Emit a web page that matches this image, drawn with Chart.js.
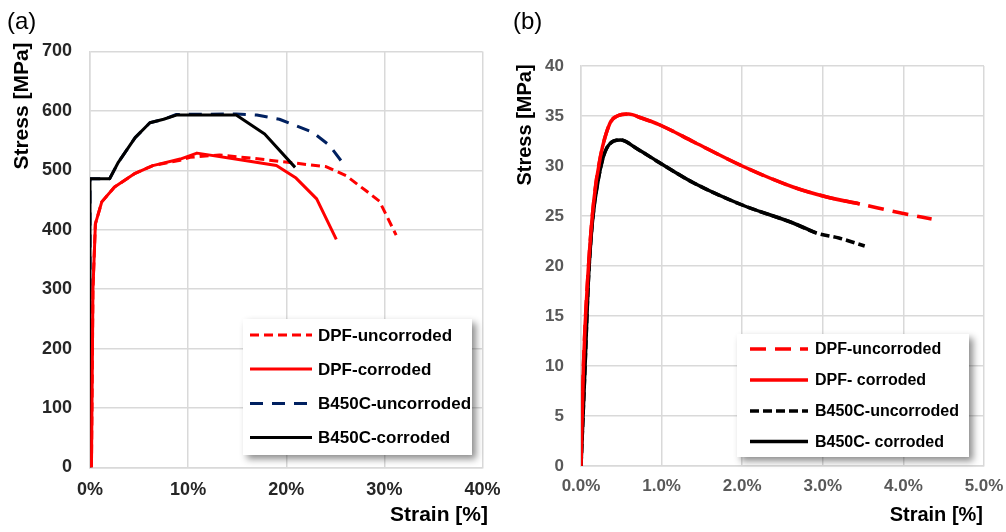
<!DOCTYPE html>
<html>
<head>
<meta charset="utf-8">
<script src="https://cdn.jsdelivr.net/npm/chart.js@4.4.1/dist/chart.umd.min.js"></script>
<style>
    html, body { margin: 0; padding: 0; background: #fff; }
    #wrap { position: relative; width: 1006px; height: 532px; }
    canvas { position: absolute; top: 0; }
    #chartA { left: 0; }
    #chartB { left: 503px; }
</style>
</head>
<body>
<div id="wrap">
    <canvas id="chartA" width="503" height="532"></canvas>
    <canvas id="chartB" width="503" height="532"></canvas>
</div>
<script>
// ===================================
// Stress-strain curves, panel (a) steel bars, panel (b) mortar/concrete
// ===================================

const FONT = '"Liberation Sans", Arial, sans-serif';

// ---- Panel (a) data: strain [%], stress [MPa]
const dpfUncorrodedStrainA = [0.15, 0.3, 0.55, 1.2, 2.5, 4.6, 6.4, 9.2, 10.2, 13.2, 17.3, 21.0, 24.1, 26.1, 28.1, 29.5, 31.2];
const dpfUncorrodedStressA = [0, 300, 410, 447, 472, 495, 508, 517, 522, 526, 519, 512, 506, 491, 466, 448, 391];
const dpfCorrodedStrainA = [0.15, 0.3, 0.55, 1.2, 2.5, 4.6, 6.4, 9.2, 10.9, 15.3, 19.0, 21.0, 23.1, 25.1];
const dpfCorrodedStressA = [0, 300, 410, 447, 472, 495, 508, 519, 529, 518, 508, 487, 452, 384];
const b450UncorrodedStrainA = [0, 0, 2.0, 2.9, 4.6, 6.1, 7.5, 8.8, 14.9, 17.0, 19.3, 22.7, 24.4, 26.1];
const b450UncorrodedStressA = [0, 486, 486, 514, 555, 580, 586, 594, 595, 593, 586, 564, 542, 505];
const b450CorrodedStrainA = [0, 0, 2.0, 2.9, 4.6, 6.1, 7.5, 8.8, 14.9, 17.8, 20.9];
const b450CorrodedStressA = [0, 486, 486, 514, 555, 580, 586, 593, 593, 561, 505];

// ---- Panel (b) data
const dpfCorrodedStrainB = [0, 0.03, 0.09, 0.16, 0.24, 0.36, 0.45, 0.59, 0.75, 0.98, 1.4, 2.0, 2.63, 3.05, 3.46];
const dpfCorrodedStressB = [0, 9.9, 19.6, 26.6, 30.9, 34.3, 35.0, 35.2, 34.8, 34.1, 32.4, 30.0, 27.9, 26.9, 26.2];
const dpfUncorrodedStrainB = dpfCorrodedStrainB.concat([3.97, 4.35]);
const dpfUncorrodedStressB = dpfCorrodedStressB.concat([25.3, 24.7]);
const b450CorrodedStrainB = [0, 0.05, 0.09, 0.14, 0.22, 0.32, 0.49, 0.7, 0.98, 1.4, 2.0, 2.63, 2.92];
const b450CorrodedStressB = [0, 9.9, 18.3, 24.3, 28.9, 31.8, 32.6, 31.7, 30.3, 28.3, 26.1, 24.3, 23.3];
const b450UncorrodedStrainB = b450CorrodedStrainB.concat([3.2, 3.52]);
const b450UncorrodedStressB = b450CorrodedStressB.concat([22.8, 22.0]);

const legendA = ['DPF-uncorroded', 'DPF-corroded', 'B450C-uncorroded', 'B450C-corroded'];
const legendB = ['DPF-uncorroded', 'DPF- corroded', 'B450C-uncorroded', 'B450C- corroded'];

function toPoints(xs, ys) {
    return xs.map((x, i) => ({ x: x, y: ys[i] }));
}

function makeDataset(label, xs, ys, color, dash, width, order) {
    return {
        label: label,
        data: toPoints(xs, ys),
        borderColor: color,
        borderWidth: width,
        borderDash: dash,
        borderCapStyle: 'butt',
        borderJoinStyle: 'round',
        pointRadius: 0,
        fill: false,
        order: order
    };
}

// Draws panel letter, axis titles and the boxed legend
const decorPlugin = {
    id: 'decor',
    afterDatasetsDraw(chart, args, opts) {
        const ctx = chart.ctx;
        ctx.save();

        // panel letter
        ctx.fillStyle = '#000';
        ctx.font = '24px ' + FONT;
        ctx.textAlign = 'left';
        ctx.textBaseline = 'middle';
        ctx.fillText(opts.panel, opts.panelX, 22);

        // x title
        ctx.font = 'bold ' + opts.titleSize + 'px ' + FONT;
        ctx.textAlign = 'right';
        ctx.fillText('Strain [%]', opts.xTitleX, opts.xTitleY);

        // y title
        ctx.save();
        ctx.translate(opts.yTitleX, opts.yTitleY);
        ctx.rotate(-Math.PI / 2);
        ctx.textAlign = 'center';
        ctx.fillText('Stress [MPa]', 0, 0);
        ctx.restore();

        // legend box
        const b = opts.box;
        ctx.save();
        ctx.shadowColor = 'rgba(0,0,0,0.45)';
        ctx.shadowBlur = 7;
        ctx.shadowOffsetX = 4;
        ctx.shadowOffsetY = 4;
        ctx.fillStyle = '#fff';
        ctx.fillRect(b.x, b.y, b.w, b.h);
        ctx.restore();

        const ds = chart.data.datasets;
        ctx.font = 'bold ' + opts.legendSize + 'px ' + FONT;
        ctx.textAlign = 'left';
        ctx.textBaseline = 'middle';
        opts.rows.forEach((rowY, i) => {
            const d = ds[i];
            ctx.beginPath();
            ctx.strokeStyle = d.borderColor;
            ctx.lineWidth = d.borderWidth;
            ctx.setLineDash(d.borderDash || []);
            ctx.lineCap = 'butt';
            ctx.moveTo(opts.sampleX0, rowY);
            ctx.lineTo(opts.sampleX1, rowY);
            ctx.stroke();
            ctx.setLineDash([]);
            ctx.fillStyle = '#000';
            ctx.fillText(opts.labels[i], opts.textX, rowY + 1);
        });

        ctx.restore();
    }
};

function buildOptions(cfg) {
    return {
        responsive: false,
        animation: false,
        events: [],
        layout: { padding: { top: cfg.top, right: cfg.right, left: 0, bottom: 0 } },
        plugins: {
            legend: { display: false },
            tooltip: { enabled: false },
            decor: cfg.decor
        },
        scales: {
            x: {
                type: 'linear',
                min: cfg.xMin,
                max: cfg.xMax,
                afterFit: function(scale) {
                    scale.height = cfg.xHeight;
                    scale.paddingLeft = 0;
                    scale.paddingRight = 0;
                },
                ticks: {
                    stepSize: cfg.xStep,
                    padding: cfg.xPad,
                    color: cfg.tickColor,
                    font: { family: FONT, size: cfg.tickSize, weight: 'bold' },
                    maxRotation: 0,
                    callback: cfg.xFormat
                },
                grid: { color: '#d9d9d9', lineWidth: 1.5, drawTicks: false },
                border: { color: '#d9d9d9', width: 1.5 }
            },
            y: {
                min: cfg.yMin,
                max: cfg.yMax,
                afterFit: function(scale) {
                    scale.width = cfg.yWidth;
                    scale.paddingTop = 0;
                    scale.paddingBottom = 0;
                },
                ticks: {
                    stepSize: cfg.yStep,
                    padding: cfg.yPad,
                    color: cfg.tickColor,
                    font: { family: FONT, size: cfg.tickSize, weight: 'bold' }
                },
                grid: { color: '#d9d9d9', lineWidth: 1.5, drawTicks: false },
                border: { color: '#d9d9d9', width: 1.5 }
            }
        }
    };
}

// ---- Panel (a)
new Chart(document.getElementById('chartA'), {
    type: 'line',
    data: {
        datasets: [
            makeDataset('DPF-uncorroded', dpfUncorrodedStrainA, dpfUncorrodedStressA, '#ff0000', [9, 5], 3, 1),
            makeDataset('DPF-corroded', dpfCorrodedStrainA, dpfCorrodedStressA, '#ff0000', [], 3, 0),
            makeDataset('B450C-uncorroded', b450UncorrodedStrainA, b450UncorrodedStressA, '#002060', [13, 9], 3, 1),
            makeDataset('B450C-corroded', b450CorrodedStrainA, b450CorrodedStressA, '#000000', [], 3, 0)
        ]
    },
    options: buildOptions({
        top: 51.5, right: 20.5, xHeight: 64.5, yWidth: 90,
        xMin: 0, xMax: 40, xStep: 10, yMin: 0, yMax: 700, yStep: 100,
        xPad: 12, yPad: 18, tickSize: 18, tickColor: '#262626',
        xFormat: v => v + '%',
        decor: {
            panel: '(a)', panelX: 7, titleSize: 21,
            xTitleX: 488, xTitleY: 515, yTitleX: 22, yTitleY: 106,
            box: { x: 243, y: 319, w: 229, h: 136 },
            rows: [335, 369, 403.5, 437.5],
            sampleX0: 250, sampleX1: 312, textX: 318, legendSize: 17,
            labels: legendA
        }
    }),
    plugins: [decorPlugin]
});

// ---- Panel (b)
new Chart(document.getElementById('chartB'), {
    type: 'line',
    data: {
        datasets: [
            makeDataset('DPF-uncorroded', dpfUncorrodedStrainB, dpfUncorrodedStressB, '#ff0000', [16, 9], 3.5, 1),
            makeDataset('DPF- corroded', dpfCorrodedStrainB, dpfCorrodedStressB, '#ff0000', [], 3.5, 0),
            makeDataset('B450C-uncorroded', b450UncorrodedStrainB, b450UncorrodedStressB, '#000000', [9, 4], 3.5, 1),
            makeDataset('B450C- corroded', b450CorrodedStrainB, b450CorrodedStressB, '#000000', [], 3.5, 0)
        ].map(d => Object.assign(d, { cubicInterpolationMode: 'monotone' }))
    },
    options: buildOptions({
        top: 66, right: 22, xHeight: 66, yWidth: 78,
        xMin: 0, xMax: 5, xStep: 1, yMin: 0, yMax: 40, yStep: 5,
        xPad: 10, yPad: 17, tickSize: 17, tickColor: '#595959',
        xFormat: v => v.toFixed(1) + '%',
        decor: {
            panel: '(b)', panelX: 10, titleSize: 20,
            xTitleX: 480, xTitleY: 515, yTitleX: 22, yTitleY: 125,
            box: { x: 234, y: 334, w: 232, h: 123 },
            rows: [349, 380, 411, 441.5],
            sampleX0: 247, sampleX1: 305, textX: 312, legendSize: 16,
            labels: legendB
        }
    }),
    plugins: [decorPlugin]
});
</script>
</body>
</html>
